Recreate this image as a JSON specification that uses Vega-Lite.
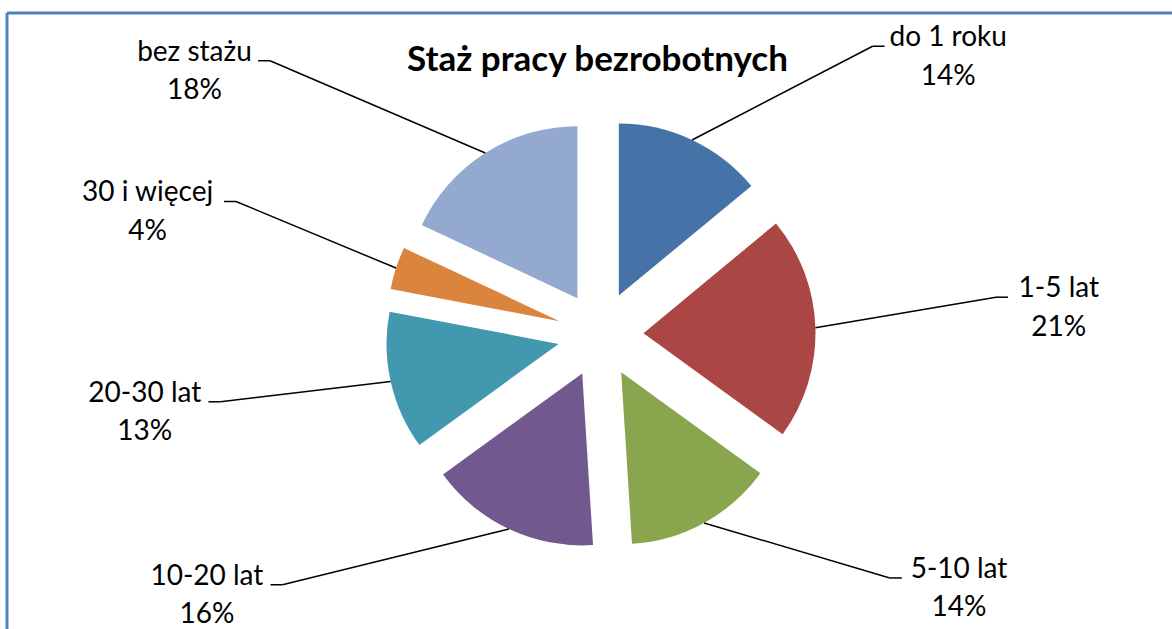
{
  "$schema": "https://vega.github.io/schema/vega-lite/v6.json",
  "width": 1165,
  "height": 616,
  "padding": {"left": 7, "top": 13, "right": 0, "bottom": 0},
  "autosize": {"type": "none"},
  "background": "#ffffff",
  "config": {
    "view": {"stroke": "#4F81BD", "strokeWidth": 3, "strokeDash": [1166, 1780, 616, 0]},
    "font": "Lato"
  },
  "title": {
    "text": "Staż pracy bezrobotnych",
    "font": "Lato",
    "fontSize": 35,
    "fontWeight": "bold",
    "color": "#000000",
    "anchor": "middle",
    "baseline": "alphabetic",
    "offset": -93,
    "dx": 8
  },
  "data": {
    "values": [
      {"category": "do 1 roku", "value": 14, "order": 1},
      {"category": "1-5 lat", "value": 21, "order": 2},
      {"category": "5-10 lat", "value": 14, "order": 3},
      {"category": "10-20 lat", "value": 16, "order": 4},
      {"category": "20-30 lat", "value": 13, "order": 5},
      {"category": "30 i więcej", "value": 4, "order": 6},
      {"category": "bez stażu", "value": 18, "order": 7}
    ]
  },
  "transform": [
    {"window": [{"op": "sum", "field": "value", "as": "cum1"}], "sort": [{"field": "order", "order": "ascending"}], "frame": [null, 0]},
    {"calculate": "datum.cum1 - datum.value", "as": "cum0"},
    {"calculate": "(datum.cum1 - datum.value / 2) / 100 * 2 * PI", "as": "ang"},
    {"calculate": "43 * sin(datum.ang)", "as": "cx"},
    {"calculate": "-43 * cos(datum.ang)", "as": "cy"},
    {"calculate": "215 * sin(datum.ang)", "as": "sx"},
    {"calculate": "-215 * cos(datum.ang)", "as": "sy"},
    {"calculate": "sin(datum.ang) >= 0 ? 1 : -1", "as": "side"},
    {"calculate": "datum.side * (305.6 + 152.8 * abs(sin(datum.ang))) - 40 * (1 - abs(sin(datum.ang)))", "as": "lx"},
    {"calculate": "(cos(datum.ang) >= 0 ? -1 : 1) * 291.7 * pow(abs(cos(datum.ang)), 0.8) - 19", "as": "ly"},
    {"calculate": "datum.lx - datum.side * (length(datum.category) * 6.4 + 6)", "as": "te"},
    {"calculate": "datum.te - datum.side * 12", "as": "el"},
    {"calculate": "datum.value / 100", "as": "pct"}
  ],
  "layer": [
    {
      "mark": {"type": "arc", "radius": 172},
      "encoding": {
        "x": {"field": "cx", "type": "quantitative", "scale": {"domain": [-593.5, 571.5], "nice": false, "zero": false}, "axis": null},
        "y": {"field": "cy", "type": "quantitative", "scale": {"domain": [-321.5, 294.5], "reverse": true, "nice": false, "zero": false}, "axis": null},
        "theta": {"field": "cum0", "type": "quantitative", "scale": {"domain": [0, 100], "range": [0, 6.283185307179586]}},
        "theta2": {"field": "cum1"},
        "color": {
          "field": "category",
          "type": "nominal",
          "scale": {
            "domain": ["do 1 roku", "1-5 lat", "5-10 lat", "10-20 lat", "20-30 lat", "30 i więcej", "bez stażu"],
            "range": ["#4572A7", "#AA4643", "#89A54E", "#71588F", "#4198AF", "#DB843D", "#93A9CF"]
          },
          "legend": null
        }
      }
    },
    {
      "mark": {"type": "rule", "color": "#000000", "strokeWidth": 1.5},
      "encoding": {
        "x": {"field": "sx", "type": "quantitative", "scale": {"domain": [-593.5, 571.5], "nice": false, "zero": false}, "axis": null},
        "y": {"field": "sy", "type": "quantitative", "scale": {"domain": [-321.5, 294.5], "reverse": true, "nice": false, "zero": false}, "axis": null},
        "x2": {"field": "el"},
        "y2": {"field": "ly"}
      }
    },
    {
      "mark": {"type": "rule", "color": "#000000", "strokeWidth": 1.5},
      "encoding": {
        "x": {"field": "el", "type": "quantitative", "scale": {"domain": [-593.5, 571.5], "nice": false, "zero": false}, "axis": null},
        "y": {"field": "ly", "type": "quantitative", "scale": {"domain": [-321.5, 294.5], "reverse": true, "nice": false, "zero": false}, "axis": null},
        "x2": {"field": "te"},
        "y2": {"field": "ly"}
      }
    },
    {
      "mark": {"type": "text", "font": "Lato", "fontSize": 28, "align": "center", "baseline": "alphabetic", "color": "#000000"},
      "encoding": {
        "x": {"field": "lx", "type": "quantitative", "scale": {"domain": [-593.5, 571.5], "nice": false, "zero": false}, "axis": null},
        "y": {"field": "ly", "type": "quantitative", "scale": {"domain": [-321.5, 294.5], "reverse": true, "nice": false, "zero": false}, "axis": null},
        "text": {"field": "category", "type": "nominal"}
      }
    },
    {
      "mark": {"type": "text", "font": "Lato", "fontSize": 28, "align": "center", "baseline": "alphabetic", "dy": 38.5, "color": "#000000"},
      "encoding": {
        "x": {"field": "lx", "type": "quantitative", "scale": {"domain": [-593.5, 571.5], "nice": false, "zero": false}, "axis": null},
        "y": {"field": "ly", "type": "quantitative", "scale": {"domain": [-321.5, 294.5], "reverse": true, "nice": false, "zero": false}, "axis": null},
        "text": {"field": "pct", "type": "quantitative", "format": ".0%"}
      }
    }
  ]
}
